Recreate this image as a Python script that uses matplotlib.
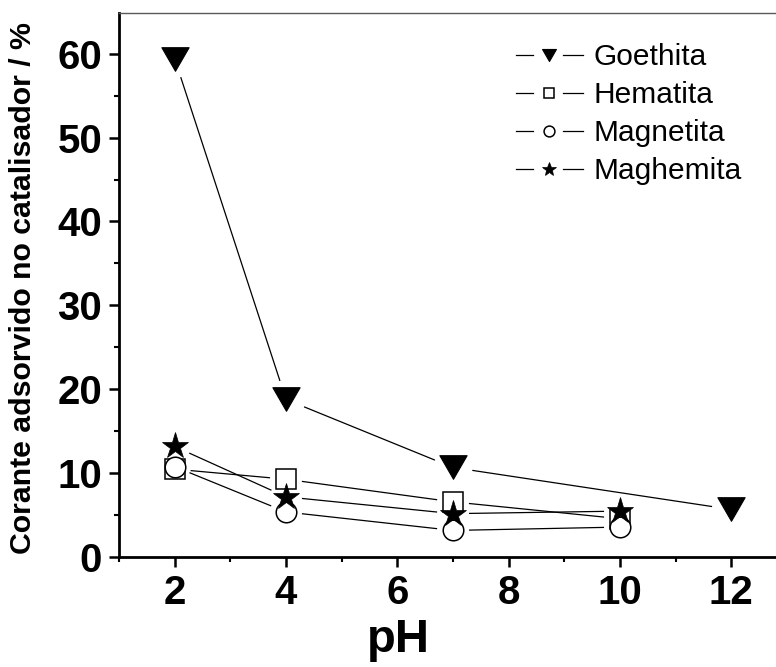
import numpy as np
import matplotlib
matplotlib.use("Agg")
import matplotlib.pyplot as plt
from matplotlib.lines import Line2D
from matplotlib.legend_handler import HandlerBase
from matplotlib.path import Path
from matplotlib.ticker import MultipleLocator

plt.rcParams['font.family'] = ['Liberation Sans', 'DejaVu Sans']

# ---------------- data ----------------
ph_goethita = [2, 4, 7, 12]
goethita = [59.4, 18.8, 10.7, 5.7]

ph_others = [2, 4, 7, 10]
hematita = [10.5, 9.3, 6.6, 4.6]
magnetita = [10.8, 5.4, 3.2, 3.6]
maghemita = [13.2, 7.2, 5.2, 5.5]

labels = ["Goethita", "Hematita", "Magnetita", "Maghemita"]
x_ticks = [2, 4, 6, 8, 10, 12]
y_ticks = [0, 10, 20, 30, 40, 50, 60]

# ---------------- figure ----------------
W, H = 776, 667
DPI = 100
fig = plt.figure(figsize=(W / DPI, H / DPI), dpi=DPI)

ax_left, ax_bottom_px, ax_top_px = 119, 557.3, 13.3
px_per_unit_x = 55.67
ax_width_px = 12 * px_per_unit_x
ax = fig.add_axes([ax_left / W, (H - ax_bottom_px) / H,
                   ax_width_px / W, (ax_bottom_px - ax_top_px) / H])
ax.set_xlim(1, 13)
ax.set_ylim(0, 64.8)

tri_verts = [(-1.0, 0.866), (1.0, 0.866), (0.0, -0.866), (-1.0, 0.866)]
tri_marker = Path(tri_verts, [Path.MOVETO, Path.LINETO, Path.LINETO, Path.CLOSEPOLY])

series = [
    (ph_goethita, goethita, dict(marker=tri_marker, ms=19.6, mfc='black', mec='black', mew=0.8), 19.5, 10.0),
    (ph_others, hematita, dict(marker='s', ms=13.8, mfc='white', mec='black', mew=1.1), 16, 7.2),
    (ph_others, magnetita, dict(marker='o', ms=14.8, mfc='white', mec='black', mew=1.1), 16, 7.8),
    (ph_others, maghemita, dict(marker='*', ms=19.5, mfc='black', mec='black', mew=0.5), 16, 10.5),
]

line_lw = 0.9
to_disp = ax.transData
to_data = ax.transData.inverted()

for xs, ys, mk, gap, _ in series:
    pts = to_disp.transform(np.column_stack([xs, ys]))
    for p0, p1 in zip(pts[:-1], pts[1:]):
        d = p1 - p0
        L = np.hypot(*d)
        u = d / L
        a = to_data.transform(p0 + u * gap)
        b = to_data.transform(p1 - u * gap)
        ax.plot([a[0], b[0]], [a[1], b[1]], color='black', lw=line_lw,
                solid_capstyle='butt', zorder=2)

for i, (xs, ys, mk, gap, _) in enumerate(series):
    ax.plot(xs, ys, linestyle='none', zorder=3 + i, clip_on=False, **mk)


# ---------------- legend ----------------
class GapHandler(HandlerBase):
    def __init__(self, mk, msize):
        super().__init__()
        self.mk = mk
        self.msize = msize

    def create_artists(self, legend, orig_handle, xdescent, ydescent,
                       width, height, fontsize, trans):
        y = height / 2 - ydescent
        x0 = -xdescent
        seg = width * 0.26
        l1 = Line2D([x0, x0 + seg], [y, y], color='black', lw=line_lw)
        l2 = Line2D([x0 + width - 0.30 * width, x0 + width], [y, y], color='black', lw=line_lw)
        props = dict(self.mk)
        props['ms'] = self.msize
        m = Line2D([x0 + width * 0.49], [y], linestyle='none', **props)
        for a in (l1, l2, m):
            a.set_transform(trans)
        return [l1, l2, m]


handles = []
handler_map = {}
for (xs, ys, mk, gap, lsize), lab in zip(series, labels):
    h = Line2D([], [], label=lab)
    handles.append(h)
    handler_map[h] = GapHandler(mk, lsize)

leg = fig.legend(handles=handles, labels=labels, handler_map=handler_map,
                 loc='upper left', bbox_to_anchor=(516 / W, 1 - 43 / H),
                 frameon=False, fontsize=21.5, handlelength=2.25,
                 handletextpad=0.33, labelspacing=0.34, borderpad=0,
                 borderaxespad=0)

# ---------------- axes styling ----------------
ax.spines['right'].set_visible(False)
ax.spines['top'].set_linewidth(1.0)
ax.spines['top'].set_color('0.35')
ax.spines['left'].set_linewidth(2.0)
ax.spines['bottom'].set_linewidth(2.0)

ax.set_xticks(x_ticks)
ax.set_yticks(y_ticks)
ax.xaxis.set_minor_locator(MultipleLocator(1))
ax.yaxis.set_minor_locator(MultipleLocator(5))
ax.tick_params(axis='both', which='major', direction='out', length=7.2, width=1.8,
               labelsize=29, top=False, right=False)
ax.tick_params(axis='both', which='minor', direction='out', length=3.8, width=1.5,
               top=False, right=False)
ax.tick_params(axis='y', which='major', pad=5)
ax.tick_params(axis='x', which='major', pad=5)
for lab in ax.get_xticklabels() + ax.get_yticklabels():
    lab.set_fontweight('bold')

fig.text(398 / W, 1 - 652 / H, "pH", fontsize=34, fontweight='bold',
         ha='center', va='baseline')
fig.text(23 / W, 1 - 288 / H, "Corante adsorvido no catalisador / %",
         fontsize=21.8, fontweight='bold', rotation=90, ha='center', va='center')

fig.savefig("out.png", dpi=DPI)
